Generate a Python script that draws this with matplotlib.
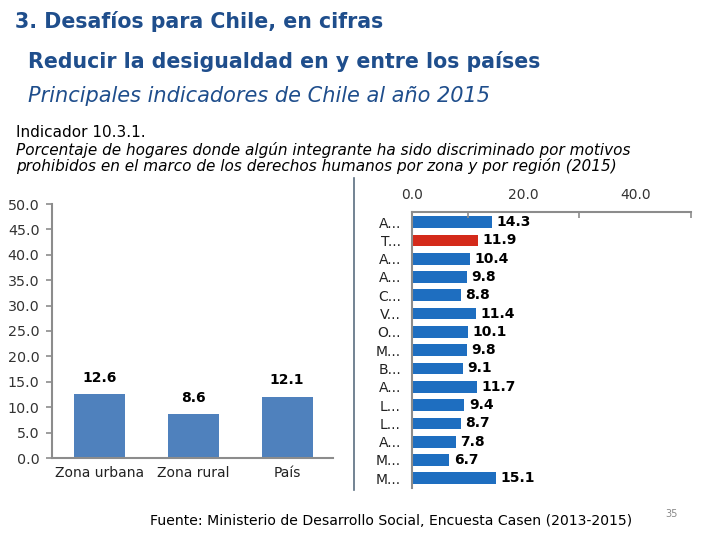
import matplotlib
matplotlib.use('Agg')
import matplotlib.pyplot as plt
import numpy as np

# datos
zonas = ['Zona urbana', 'Zona rural', 'País']
zonas_val = [12.6, 8.6, 12.1]

regiones = ['A...', 'T...', 'A...', 'A...', 'C...', 'V...', 'O...', 'M...',
            'B...', 'A...', 'L...', 'L...', 'A...', 'M...', 'M...']
regiones_val = [14.3, 11.9, 10.4, 9.8, 8.8, 11.4, 10.1, 9.8,
                9.1, 11.7, 9.4, 8.7, 7.8, 6.7, 15.1]
destacada = 1  # T... en rojo

plt.rcParams['font.family'] = 'DejaVu Sans'
azul_titulo = '#1F4E8C'
gris = '#8C8C8C'

fig = plt.figure(figsize=(7.2, 5.4), dpi=100)

# titulos
fig.text(15/720, 1-22/540, '3. Desafíos para Chile, en cifras', fontsize=14.8,
         fontweight='bold', color=azul_titulo, va='center')
fig.text(28/720, 1-61/540, 'Reducir la desigualdad en y entre los países', fontsize=14.8,
         fontweight='bold', color=azul_titulo, va='center')
fig.text(28/720, 1-96/540, 'Principales indicadores de Chile al año 2015', fontsize=15,
         style='italic', color=azul_titulo, va='center')
fig.text(16/720, 1-133/540, 'Indicador 10.3.1.', fontsize=11, va='center')
fig.text(16/720, 1-150/540, 'Porcentaje de hogares donde algún integrante ha sido discriminado por motivos',
         fontsize=11, style='italic', va='center')
fig.text(16/720, 1-166/540, 'prohibidos en el marco de los derechos humanos por zona y por región (2015)',
         fontsize=11, style='italic', va='center')

# grafico por zona
ax1 = fig.add_axes([52/720, 1-458/540, 281/720, 254/540])
x = np.arange(len(zonas))
ax1.bar(x, zonas_val, width=0.545, color='#4F81BD')
for xi, v in zip(x, zonas_val):
    ax1.text(xi, v + 1.8, f'{v:.1f}', ha='center', va='bottom', fontsize=10, fontweight='bold')
ax1.set_xlim(-0.51, 2.49)
ax1.set_ylim(0, 50)
ax1.set_yticks(np.arange(0, 51, 5))
ax1.set_yticklabels([f'{t:.1f}' for t in np.arange(0, 51, 5)])
ax1.set_xticks(x)
ax1.set_xticklabels(zonas)
for s in ['top', 'right']:
    ax1.spines[s].set_visible(False)
for s in ['left', 'bottom']:
    ax1.spines[s].set_color(gris)
    ax1.spines[s].set_linewidth(1.5)
ax1.tick_params(axis='y', colors=gris, labelcolor='#333333', labelsize=10.3, length=4,
                width=1.2, pad=5)
ax1.tick_params(axis='x', length=0, labelsize=10, labelcolor='#222222', pad=6)

# linea separadora
fig.add_artist(plt.Line2D([354/720, 354/720], [1-178/540, 1-490/540], color='#5A6E80', lw=1.2))

# grafico por region
ax2 = fig.add_axes([412/720, 1-488/540, 279/720, 276/540])
y = np.arange(len(regiones))
colores = ['#D42A1A' if i == destacada else '#1E6EC0' for i in y]
ax2.barh(y, regiones_val, height=0.64, color=colores)
for yi, v in zip(y, regiones_val):
    ax2.text(v + 0.8, yi, f'{v:.1f}', ha='left', va='center', fontsize=10, fontweight='bold')
ax2.set_xlim(0, 50)
ax2.set_ylim(14.53, -0.55)
ax2.xaxis.tick_top()
ax2.set_xticks([0, 20, 40])
ax2.set_xticklabels(['0.0', '20.0', '40.0'])
ax2.set_xticks([0, 10, 30, 50], minor=True)
ax2.tick_params(axis='x', which='major', length=0, pad=7, labelsize=10, labelcolor='#333333')
ax2.tick_params(axis='x', which='minor', length=4, width=1.2, color=gris, direction='in')
ax2.set_yticks(y)
ax2.set_yticklabels(regiones)
ax2.tick_params(axis='y', length=0, pad=8, labelsize=10, labelcolor='#222222')
for s in ['bottom', 'right']:
    ax2.spines[s].set_visible(False)
for s in ['top', 'left']:
    ax2.spines[s].set_color(gris)
    ax2.spines[s].set_linewidth(1.5)

# fuente
fig.text(150/720, 1-521/540, 'Fuente: Ministerio de Desarrollo Social, Encuesta Casen (2013-2015)',
         fontsize=10.1, va='center')
fig.text(665/720, 1-514/540, '35', fontsize=7, color='#888888', va='center')

fig.savefig('out.png', dpi=100)
